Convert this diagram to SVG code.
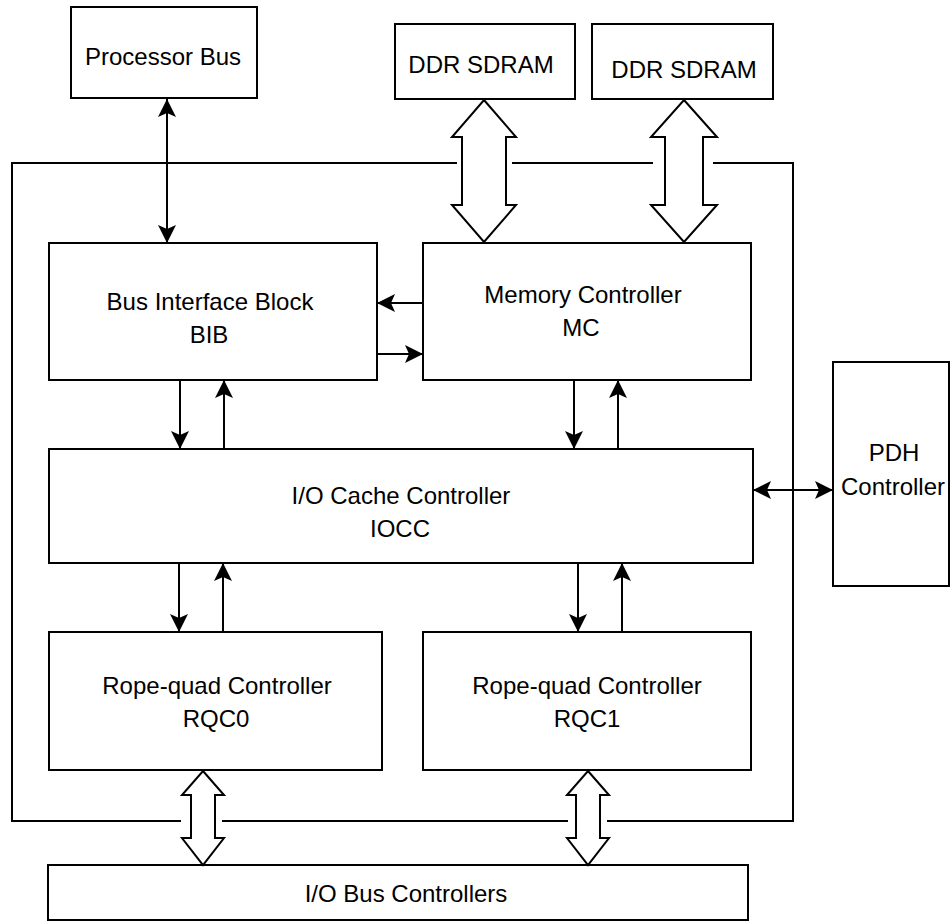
<svg xmlns="http://www.w3.org/2000/svg" width="951" height="922" viewBox="0 0 951 922">
<defs>
<style>
.box{fill:#fff;stroke:#000;stroke-width:2}
.t{font-family:"Liberation Sans",Arial,sans-serif;font-size:24px;fill:#000;text-anchor:middle}
.ln{fill:none;stroke:#000;stroke-width:2}
.a{fill:none;stroke:#000;stroke-width:2;marker-end:url(#ah)}
.a2{fill:none;stroke:#000;stroke-width:2;marker-end:url(#ah);marker-start:url(#ah)}
.hollow{fill:#fff;stroke:#000;stroke-width:2;stroke-linejoin:miter}
</style>
<marker id="ah" viewBox="0 0 18 18" refX="18" refY="9" markerWidth="18" markerHeight="18" markerUnits="userSpaceOnUse" orient="auto-start-reverse">
<path d="M18,9 L0,0 L4,9 L0,18 Z" fill="#000"/>
</marker>
</defs>

<g id="frame">
<path class="ln" d="M457,163 H12 V821 H181"/>
<path class="ln" d="M512,163 H653"/>
<path class="ln" d="M713,163 H793 V821 H607"/>
<path class="ln" d="M222,821 H568"/>
</g>

<g id="processor-bus">
<rect class="box" x="71" y="7" width="186" height="91"/>
<text class="t" x="163" y="65">Processor Bus</text>
</g>
<g id="ddr1">
<rect class="box" x="395" y="24" width="180" height="75"/>
<text class="t" x="481" y="73">DDR SDRAM</text>
</g>
<g id="ddr2">
<rect class="box" x="592" y="24" width="181" height="75"/>
<text class="t" x="684" y="78">DDR SDRAM</text>
</g>
<g id="bib">
<rect class="box" x="49" y="243" width="328" height="137"/>
<text class="t" x="210" y="310">Bus Interface Block</text>
<text class="t" x="209" y="343">BIB</text>
</g>
<g id="mc">
<rect class="box" x="423" y="243" width="328" height="137"/>
<text class="t" x="583" y="303">Memory Controller</text>
<text class="t" x="581" y="336">MC</text>
</g>
<g id="iocc">
<rect class="box" x="49" y="449" width="704" height="114"/>
<text class="t" x="401" y="504">I/O Cache Controller</text>
<text class="t" x="400" y="537">IOCC</text>
</g>
<g id="pdh">
<rect class="box" x="833" y="362" width="116" height="224"/>
<text class="t" x="894" y="461">PDH</text>
<text class="t" x="893" y="495">Controller</text>
</g>
<g id="rqc0">
<rect class="box" x="49" y="632" width="333" height="138"/>
<text class="t" x="217" y="694">Rope-quad Controller</text>
<text class="t" x="216" y="727">RQC0</text>
</g>
<g id="rqc1">
<rect class="box" x="423" y="632" width="328" height="138"/>
<text class="t" x="587" y="694">Rope-quad Controller</text>
<text class="t" x="587" y="727">RQC1</text>
</g>
<g id="io-bus">
<rect class="box" x="48" y="865" width="700" height="55"/>
<text class="t" x="406" y="902">I/O Bus Controllers</text>
</g>

<g id="connectors">
<line class="a2" x1="167" y1="99" x2="167" y2="243"/>
<line class="a" x1="423" y1="303" x2="377" y2="303"/>
<line class="a" x1="377" y1="354" x2="423" y2="354"/>
<line class="a" x1="180" y1="380" x2="180" y2="449"/>
<line class="a" x1="224" y1="449" x2="224" y2="380"/>
<line class="a" x1="574" y1="380" x2="574" y2="449"/>
<line class="a" x1="618" y1="449" x2="618" y2="380"/>
<line class="a" x1="179" y1="563" x2="179" y2="632"/>
<line class="a" x1="223" y1="632" x2="223" y2="563"/>
<line class="a" x1="578" y1="563" x2="578" y2="632"/>
<line class="a" x1="622" y1="632" x2="622" y2="563"/>
<line class="a2" x1="753" y1="490" x2="833" y2="490"/>
<polygon class="hollow" points="484,100 516,137 506,137 506,205 516,205 484,242 452,205 462,205 462,137 452,137"/>
<polygon class="hollow" points="684,100 717,137 703,137 703,205 717,205 684,242 651,205 665,205 665,137 651,137"/>
<polygon class="hollow" points="203,771 224,795 215,795 215,838 224,838 203,865 182,838 191,838 191,795 182,795"/>
<polygon class="hollow" points="588,771 609,795 600,795 600,838 609,838 588,865 567,838 576,838 576,795 567,795"/>
</g>
</svg>
